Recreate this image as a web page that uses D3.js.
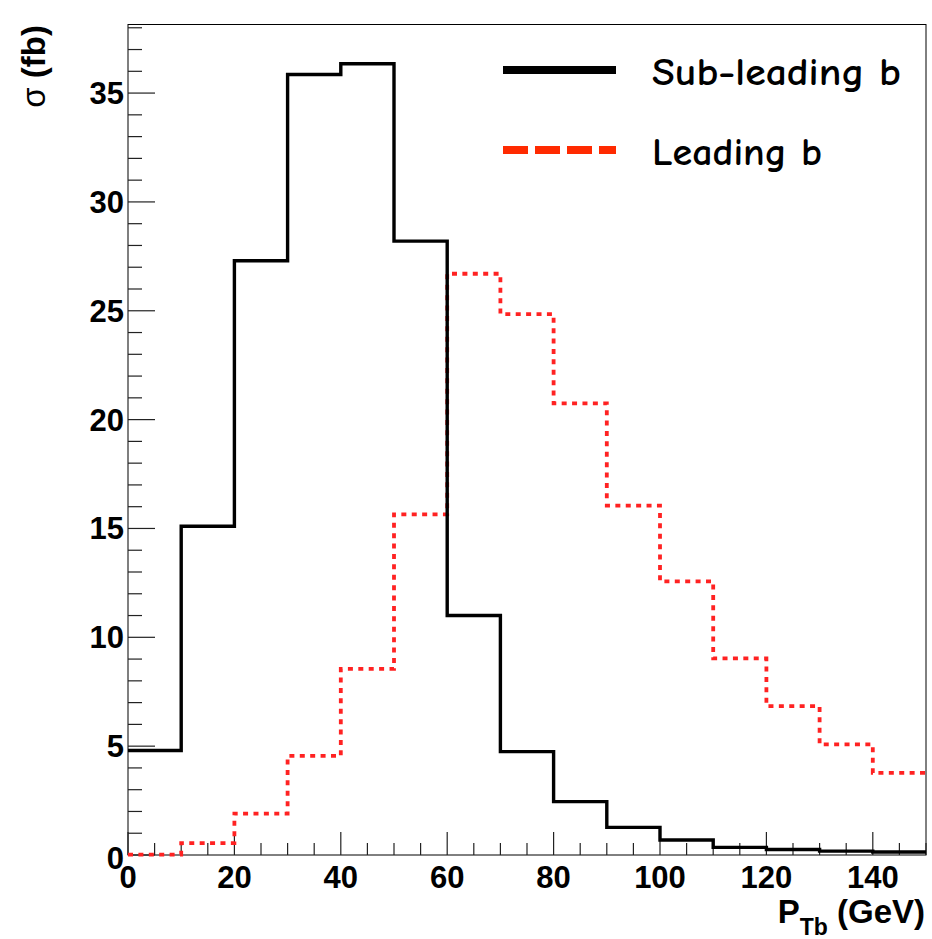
<!DOCTYPE html>
<html>
<head>
<meta charset="utf-8">
<script src="https://cdnjs.cloudflare.com/ajax/libs/d3/7.8.5/d3.min.js"></script>
<style>
  body { margin: 0; background: #fff; }
  svg { display: block; }
</style>
</head>
<body>
<script>
// bin edges in GeV (15 bins of 10 GeV)
var binEdges = [0, 10, 20, 30, 40, 50, 60, 70, 80, 90, 100, 110, 120, 130, 140, 150];

// sigma (fb) per bin
var subLeading = [4.8, 15.1, 27.3, 35.85, 36.35, 28.2, 11.0, 4.75, 2.45, 1.27, 0.69, 0.35, 0.25, 0.18, 0.14];
var leading = [0.02, 0.55, 1.9, 4.55, 8.55, 15.65, 26.7, 24.85, 20.75, 16.05, 12.57, 9.03, 6.84, 5.08, 3.77];

var xTicks = [0, 20, 40, 60, 80, 100, 120, 140];
var yTicks = [0, 5, 10, 15, 20, 25, 30, 35];
var legendLabels = ["Sub-leading b", "Leading b"];

(function() {
var width = 932, height = 939;
var pLeft = 128, pRight = 926, pTop = 24.5, pBottom = 855;

var svg = d3.select("body").append("svg")
  .attr("width", width)
  .attr("height", height);

var x = d3.scaleLinear().domain([0, 150]).range([pLeft, pRight]);
var y = d3.scaleLinear().domain([0, 38.15]).range([pBottom, pTop]);

// frame
svg.append("rect")
  .attr("x", pLeft).attr("y", pTop)
  .attr("width", pRight - pLeft).attr("height", pBottom - pTop)
  .attr("fill", "none")
  .attr("stroke", "#000")
  .attr("stroke-width", 1);

// ticks
var tickColor = "#222";
svg.selectAll(".xminor")
  .data(d3.range(0, 151, 5))
  .enter().append("line")
  .attr("x1", function(d) { return x(d); })
  .attr("x2", function(d) { return x(d); })
  .attr("y1", pBottom)
  .attr("y2", function(d) { return d % 20 === 0 ? pBottom - 23 : pBottom - 12; })
  .attr("stroke", tickColor)
  .attr("stroke-width", 1.2);

svg.selectAll(".yminor")
  .data(d3.range(0, 39, 1))
  .enter().append("line")
  .attr("y1", function(d) { return y(d); })
  .attr("y2", function(d) { return y(d); })
  .attr("x1", pLeft)
  .attr("x2", function(d) { return d % 5 === 0 ? pLeft + 27 : pLeft + 14; })
  .attr("stroke", tickColor)
  .attr("stroke-width", 1.2);

// tick labels
var labelFont = "'Liberation Sans', Arial, Helvetica, sans-serif";
svg.selectAll(".xlab")
  .data(xTicks)
  .enter().append("text")
  .attr("x", function(d) { return x(d); })
  .attr("y", 888)
  .attr("text-anchor", "middle")
  .style("font-family", labelFont)
  .style("font-weight", "bold")
  .style("font-size", "31px")
  .text(function(d) { return d; });

svg.selectAll(".ylab")
  .data(yTicks)
  .enter().append("text")
  .attr("x", 124)
  .attr("y", function(d) { return d === 0 ? y(d) + 14 : y(d) + 11; })
  .attr("text-anchor", "end")
  .style("font-family", labelFont)
  .style("font-weight", "bold")
  .style("font-size", "31px")
  .text(function(d) { return d; });

// axis titles
var yTitle = svg.append("text")
  .attr("transform", "translate(45,25) rotate(-90)")
  .attr("text-anchor", "end")
  .style("font-family", labelFont)
  .style("font-size", "33px");
yTitle.append("tspan").text("\u03c3 ");
yTitle.append("tspan").style("font-weight", "bold").text("(fb)");

var xTitle = svg.append("text")
  .attr("x", 925)
  .attr("y", 923)
  .attr("text-anchor", "end")
  .style("font-family", labelFont)
  .style("font-weight", "bold")
  .style("font-size", "33px");
xTitle.append("tspan").text("P");
xTitle.append("tspan").attr("dy", 12).style("font-size", "23px").text("Tb");
xTitle.append("tspan").attr("dy", -12).text(" (GeV)");

// histograms
function stepPoints(vals) {
  var pts = vals.map(function(v, i) { return [binEdges[i], v]; });
  pts.push([binEdges[binEdges.length - 1], vals[vals.length - 1]]);
  return pts;
}

var line = d3.line()
  .x(function(d) { return x(d[0]); })
  .y(function(d) { return y(d[1]); })
  .curve(d3.curveStepAfter);

svg.append("path")
  .datum(stepPoints(leading))
  .attr("d", line)
  .attr("fill", "none")
  .attr("stroke", "#ff2222")
  .attr("stroke-width", 3.8)
  .attr("stroke-dasharray", "5,5.4");

svg.append("path")
  .datum(stepPoints(subLeading))
  .attr("d", line)
  .attr("fill", "none")
  .attr("stroke", "#000")
  .attr("stroke-width", 3.4);

// legend
var legendFont = "'Comic Sans MS', 'Comic Neue', 'DejaVu Sans', sans-serif";
var legendStyles = [
  { color: "#000", dash: null, y: 70 },
  { color: "#ff2a00", dash: "25,7", y: 150 }
];

var legend = svg.selectAll(".legend")
  .data(legendLabels)
  .enter().append("g");

legend.append("line")
  .attr("x1", 503).attr("x2", 616)
  .attr("y1", function(d, i) { return legendStyles[i].y; })
  .attr("y2", function(d, i) { return legendStyles[i].y; })
  .attr("stroke", function(d, i) { return legendStyles[i].color; })
  .attr("stroke-width", 8)
  .attr("stroke-dasharray", function(d, i) { return legendStyles[i].dash; });

legend.append("text")
  .attr("x", 652)
  .attr("y", function(d, i) { return legendStyles[i].y + 15; })
  .attr("textLength", function(d, i) { return i === 0 ? 249 : 170; })
  .attr("lengthAdjust", "spacingAndGlyphs")
  .style("font-family", legendFont)
  .style("font-weight", "bold")
  .style("font-size", "38px")
  .text(function(d) { return d; });
})();
</script>
</body>
</html>
